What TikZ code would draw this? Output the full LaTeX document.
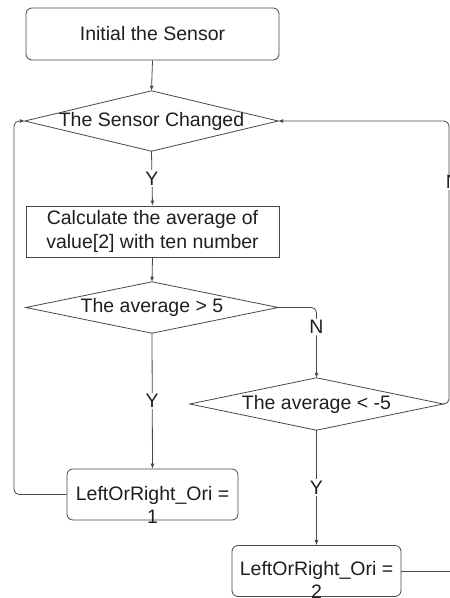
\documentclass[tikz,border=0pt]{standalone}
\usepackage{fontspec}
\setmainfont{Liberation Sans}
\usetikzlibrary{arrows.meta}
\begin{document}
\begin{tikzpicture}[x=1pt,y=-1pt,
  ln/.style={draw=black!72, line width=0.8pt},
  arr/.style={ln, -{Latex[length=5pt,width=4pt]}},
  txt/.style={font=\fontsize{19.5}{23.5}\selectfont, text=black!88, align=center, inner sep=0pt},
  rbox/.style={txt, ln, rounded corners=6pt},
  sbox/.style={txt, ln},
  dia/.style={txt},
  lab/.style={txt, fill=white, inner sep=1.5pt}
]
\path[use as bounding box] (0,0) rectangle (450,598);
\clip (0,0) rectangle (450,598);
\fill[white] (0,0) rectangle (450,598);

\node[rbox, minimum width=253pt, minimum height=52pt] (b1) at (152.5,34) {Initial the Sensor};
\node[dia, minimum width=253pt, minimum height=60pt] (d1) at (151.5,121) {The Sensor Changed};
\draw[ln] (d1.north) -- (d1.east) -- (d1.south) -- (d1.west) -- cycle;
\node[sbox, minimum width=253pt, minimum height=51pt] (b2) at (152.5,231.5) {Calculate the average of\\value[2] with ten number};
\node[dia, minimum width=252pt, minimum height=51pt] (d3) at (152,307.5) {The average > 5};
\draw[ln] (d3.north) -- (d3.east) -- (d3.south) -- (d3.west) -- cycle;
\node[dia, minimum width=253pt, minimum height=52pt] (d4) at (316.5,404) {The average < -5};
\draw[ln] (d4.north) -- (d4.east) -- (d4.south) -- (d4.west) -- cycle;
\node[rbox, minimum width=171pt, minimum height=51pt] (o1) at (152.5,494.5) {};
\node[txt] (t1) at (152.5,505) {LeftOrRight\_Ori =\\1};
\node[rbox, minimum width=169pt, minimum height=51pt] (o2) at (316.5,571) {};
\node[txt] (t2) at (316.5,580) {LeftOrRight\_Ori =\\2};

\coordinate (lc) at (14,121);
\coordinate (rc) at (449,121);
\coordinate (re) at (460,571);

\draw[arr] (b1.south) -- (d1.north);
\draw[arr] (d1.south) -- node[lab]{Y} (b2.north);
\draw[arr] (b2.south) -- (d3.north);
\draw[arr] (d3.south) -- node[lab]{Y} (o1.north);
\draw[arr, rounded corners=5pt] (d3.east) -| node[lab, pos=0.64]{N} (d4.north);
\draw[arr] (d4.south) -- node[lab]{Y} (o2.north);
\draw[arr, rounded corners=5pt] (o1.west) -| (lc) -- (d1.west);
\draw[arr, rounded corners=5pt] (d4.east) -| (rc) -- (d1.east);
\node[lab] (nlab) at (453,182) {N};
\draw[ln] (o2.east) -- (re);
\end{tikzpicture}
\end{document}
